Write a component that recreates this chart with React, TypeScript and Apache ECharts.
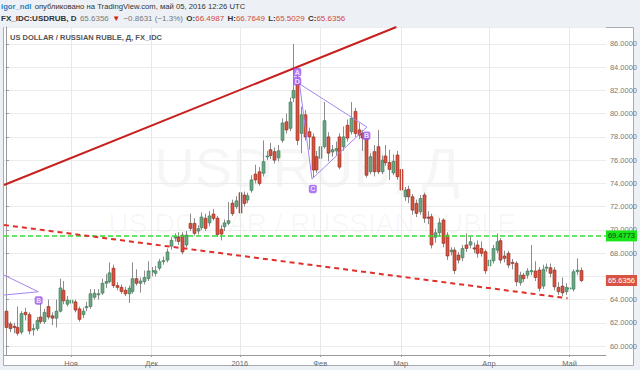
import React, { useEffect, useRef } from "react";
import * as echarts from "echarts";

// ---- categories (weekday trading days) ----
const startDate = "2015-10-08";
const totalSlots = 157; // 151 bars + empty right padding
const monthLabels: Record<string, string> = {
  "2015-11-02": "Ноя",
  "2015-12-01": "Дек",
  "2016-01-01": "2016",
  "2016-02-01": "Фев",
  "2016-03-01": "Мар",
  "2016-04-01": "Апр",
  "2016-05-02": "Май",
};

// ---- OHLC values [open, close, low, high] ----
const ohlc: number[][] = [
  [63.0, 61.6, 61.4, 63.2], [61.9, 61.5, 61.2, 62.1], [61.7, 61.6, 61.1, 62.0], [61.6, 61.1, 60.9, 63.4],
  [61.2, 62.8, 61.0, 63.0], [62.9, 62.7, 62.2, 63.3], [62.7, 61.3, 61.0, 62.9], [61.4, 61.5, 60.9, 61.9],
  [61.5, 62.2, 61.3, 62.5], [62.5, 62.1, 61.9, 64.2], [62.1, 62.9, 61.9, 63.2], [63.4, 62.5, 62.3, 64.0],
  [62.6, 62.4, 61.8, 62.9], [62.4, 63.0, 61.6, 64.0], [63.0, 65.0, 62.9, 65.8], [64.8, 63.9, 63.6, 65.6],
  [63.6, 63.95, 63.4, 64.3], [63.7, 63.95, 63.3, 64.4], [63.8, 63.1, 62.9, 64.0], [63.2, 62.3, 62.1, 63.4],
  [62.7, 63.0, 62.4, 63.3], [63.3, 63.4, 63.0, 63.8], [63.4, 64.5, 63.2, 64.9], [64.2, 64.55, 64.0, 64.9],
  [64.45, 64.5, 64.0, 64.9], [64.56, 65.4, 64.4, 65.8], [65.4, 65.55, 65.0, 66.2], [65.55, 66.3, 65.4, 67.2],
  [66.7, 65.2, 65.0, 67.0], [65.2, 65.05, 64.8, 65.5], [65.05, 64.7, 64.5, 65.3], [64.8, 64.5, 64.3, 65.1],
  [64.5, 64.97, 63.7, 65.2], [64.7, 65.8, 64.5, 67.2], [65.8, 65.4, 65.2, 66.6], [65.4, 65.6, 64.6, 65.9],
  [65.55, 65.9, 65.3, 66.5], [65.8, 66.46, 65.6, 67.3], [66.4, 66.5, 66.0, 66.8], [66.26, 66.48, 66.0, 66.9],
  [66.7, 67.26, 66.5, 67.5], [67.3, 67.35, 67.0, 67.7], [67.4, 68.1, 67.2, 68.4], [68.6, 69.1, 68.3, 69.4],
  [69.3, 69.4, 69.0, 69.7], [69.4, 69.0, 68.7, 69.8], [69.55, 68.1, 67.9, 69.8], [68.7, 69.55, 68.5, 69.9],
  [70.56, 70.13, 69.9, 71.4], [70.56, 69.7, 69.5, 71.0], [69.9, 70.1, 69.6, 70.4], [70.2, 71.1, 70.0, 71.5],
  [71.0, 70.13, 69.9, 71.4], [70.6, 71.2, 70.3, 71.6], [71.36, 70.99, 70.8, 71.8], [71.0, 69.6, 69.4, 71.2],
  [70.05, 69.64, 69.1, 70.4], [70.27, 70.6, 69.9, 70.9], [70.56, 70.79, 70.4, 72.4], [72.3, 71.4, 71.2, 72.6],
  [72.0, 72.5, 71.8, 72.9], [73.2, 71.45, 71.2, 75.7], [73.0, 72.28, 72.0, 73.3], [72.57, 72.94, 72.3, 73.2],
  [73.4, 74.3, 73.2, 74.7], [74.8, 74.3, 74.0, 75.6], [75.0, 74.0, 73.8, 75.4], [74.87, 75.87, 74.6, 77.7],
  [76.3, 76.36, 76.0, 76.8], [76.9, 76.4, 76.1, 77.5], [76.73, 76.0, 75.7, 77.1], [76.2, 76.8, 75.9, 77.3],
  [77.7, 79.2, 77.5, 79.6], [79.3, 78.6, 78.3, 80.0], [78.74, 81.0, 78.5, 81.4], [81.35, 82.0, 81.0, 86.0],
  [82.6, 77.7, 77.3, 83.3], [78.3, 79.9, 76.6, 80.6], [79.9, 78.0, 77.7, 80.3], [78.45, 78.0, 76.9, 78.8],
  [78.0, 75.15, 74.5, 78.3], [76.3, 75.15, 74.9, 76.8], [76.16, 77.16, 75.9, 77.5], [77.16, 79.4, 77.0, 81.0],
  [78.0, 76.6, 75.9, 78.4], [76.7, 76.9, 76.3, 77.3], [76.8, 77.0, 76.4, 77.6], [78.0, 75.4, 75.2, 78.3],
  [77.16, 78.0, 76.8, 78.9], [79.0, 77.9, 77.6, 79.5], [78.45, 79.6, 78.2, 81.0], [80.2, 78.3, 78.0, 80.5],
  [78.6, 78.16, 77.8, 79.2], [78.3, 77.9, 76.8, 78.6], [77.9, 74.7, 74.5, 78.2], [75.0, 76.3, 74.8, 76.6],
  [76.73, 75.0, 74.6, 77.3], [77.16, 75.0, 74.8, 78.6], [75.0, 76.0, 74.8, 76.4], [76.36, 75.78, 75.5, 77.3],
  [75.8, 75.2, 74.3, 76.9], [74.9, 75.9, 74.7, 76.5], [76.44, 74.57, 74.3, 76.8], [75.2, 73.43, 73.1, 75.6],
  [72.85, 73.43, 72.5, 73.7], [73.49, 72.85, 72.3, 73.8], [72.85, 71.7, 71.3, 73.1], [72.28, 71.42, 71.1, 72.6],
  [71.56, 72.7, 71.3, 73.0], [73.0, 71.0, 70.6, 73.2], [71.1, 71.0, 70.5, 71.6], [71.13, 68.7, 68.4, 71.4],
  [69.36, 69.75, 68.9, 70.1], [69.75, 70.6, 69.4, 71.0], [70.85, 68.84, 68.5, 71.0], [69.55, 67.75, 67.4, 69.8],
  [68.12, 68.26, 67.8, 68.5], [68.26, 66.5, 66.2, 68.5], [67.83, 67.4, 67.1, 68.1], [67.6, 68.4, 67.3, 68.7],
  [68.7, 68.4, 68.1, 69.7], [68.7, 68.98, 68.4, 69.4], [68.45, 68.35, 68.0, 68.9], [68.7, 67.98, 67.6, 69.1],
  [68.4, 67.98, 67.7, 69.0], [68.12, 66.48, 66.2, 68.3], [66.9, 67.4, 66.6, 67.7], [67.34, 68.4, 67.1, 68.7],
  [68.26, 68.98, 68.0, 69.7], [69.07, 67.4, 67.1, 69.3], [67.75, 67.55, 67.2, 68.2], [67.98, 66.97, 66.7, 68.2],
  [67.2, 67.12, 66.6, 67.5], [67.12, 65.53, 65.16, 67.3], [65.45, 66.1, 65.2, 66.4], [66.1, 65.8, 65.5, 66.3],
  [66.1, 66.46, 65.8, 66.7], [66.4, 66.5, 66.1, 68.7], [66.46, 65.9, 65.6, 67.3], [66.54, 64.97, 64.7, 66.8],
  [65.16, 66.6, 64.9, 67.0], [66.7, 66.8, 66.4, 67.1], [66.74, 66.26, 65.9, 67.1], [66.54, 65.1, 64.8, 66.8],
  [65.05, 64.68, 64.4, 65.5], [65.16, 64.58, 64.3, 65.9], [64.68, 65.05, 64.4, 65.4], [64.95, 65.0, 62.24, 65.68],
  [64.9, 66.4, 64.7, 66.6], [66.4, 66.54, 66.1, 67.55], [66.4987, 65.6356, 65.5029, 66.7649],
];

// ---- drawings (x = bar index, y = price) ----
const upperChannel = [[-0.5, 73.86], [101.85, 87.46]];
const lowerChannel = [[-0.5, 70.42], [146.5, 64.11]];
const triangle = [[76.6, 82.56], [94.17, 78.85], [79.84, 74.38], [76.6, 82.56]];
const leftWedgeTop = [[-0.5, 66.11], [8.44, 64.67]];
const leftWedgeBottom = [[-0.5, 64.39], [8.44, 64.67]];
const patternLabels = [
  { name: "A", value: [76.0, 83.56] },
  { name: "D", value: [76.0, 82.8] },
  { name: "C", value: [80.05, 73.52] },
  { name: "B", value: [94.04, 78.1] },
  { name: "B", value: [8.54, 63.93] },
];
const levelLine = 69.4773;
const lastPrice = 65.6356;
const hiddenAxisLabel = 66; // covered by the last-price tag
const yMin = 59.23;
const yMax = 87.46;

function buildDates(start: string, count: number): string[] {
  const out: string[] = [];
  const d = new Date(start + "T00:00:00Z");
  while (out.length < count) {
    const wd = d.getUTCDay();
    if (wd !== 0 && wd !== 6) out.push(d.toISOString().slice(0, 10));
    d.setUTCDate(d.getUTCDate() + 1);
  }
  return out;
}

const FONT = "'Liberation Sans', Arial, sans-serif";

export default function App() {
  const ref = useRef<HTMLDivElement>(null);
  useEffect(() => {
    if (!ref.current) return;
    const chart = echarts.init(ref.current, undefined, { renderer: "svg" });
    const dates = buildDates(startDate, totalSlots);
    const candleData = ohlc.map((r, i) => [i, r[0], r[1], r[2], r[3]]);
    const isMonth = (_: number, v: string) => v in monthLabels;

    const purple = "#a585f2";
    const overlay = (data: number[][], style: any) => ({
      type: "line",
      xAxisIndex: 1,
      yAxisIndex: 0,
      data,
      symbol: "none",
      silent: true,
      animation: false,
      z: 5,
      lineStyle: style,
    });

    chart.setOption({
      animation: false,
      backgroundColor: "#edf1f5",
      textStyle: { fontFamily: FONT },
      grid: { left: 4, right: 33, top: 27, bottom: 15, containLabel: false },
      xAxis: [
        {
          type: "category",
          data: dates,
          boundaryGap: true,
          axisLine: { show: true, lineStyle: { color: "#9a9a9a" } },
          axisTick: { show: true, interval: isMonth, alignWithLabel: true, length: 2, lineStyle: { color: "#9a9a9a" } },
          axisLabel: {
            interval: isMonth,
            formatter: (v: string) => monthLabels[v] || "",
            fontSize: 7.5,
            color: "#6a6a6a",
            margin: 4,
            fontFamily: FONT,
          },
          splitLine: { show: false },
        },
        { type: "value", min: -0.5, max: totalSlots - 0.5, show: false },
      ],
      yAxis: {
        type: "value",
        position: "right",
        min: yMin,
        max: yMax,
        splitNumber: 14,
        axisLine: { show: true, lineStyle: { color: "#9a9a9a" } },
        axisTick: { show: true, length: 3, lineStyle: { color: "#9a9a9a" } },
        axisLabel: {
          formatter: (v: number) =>
            Math.abs(v - Math.round(v)) < 1e-6 && Math.round(v) !== hiddenAxisLabel ? v.toFixed(4) : "",
          showMinLabel: false,
          showMaxLabel: false,
          fontSize: 7.5,
          color: "#7a7a7a",
          margin: 4,
          fontFamily: FONT,
        },
        splitLine: { show: true, lineStyle: { color: "#ececec" } },
      },
      graphic: [
        {
          type: "rect",
          z: -20,
          silent: true,
          shape: { x: 3.5, y: 27.5, width: 630, height: 338 },
          style: { fill: "#ffffff", stroke: "#a8acb0", lineWidth: 1 },
        },
        {
          type: "text",
          z: -10,
          silent: true,
          x: 307,
          y: 167,
          style: {
            text: "USDRUB, Д",
            font: `56px ${FONT}`,
            lineHeight: 40,
            fill: "rgba(0,0,0,0.035)",
            textAlign: "center",
            textVerticalAlign: "middle",
          },
        },
        {
          type: "text",
          z: -10,
          silent: true,
          x: 312,
          y: 223,
          style: {
            text: "US DOLLAR / RUSSIAN RUBLE",
            font: `28px ${FONT}`,
            lineHeight: 20,
            fill: "rgba(0,0,0,0.035)",
            textAlign: "center",
            textVerticalAlign: "middle",
          },
        },
        {
          type: "text",
          z: 10,
          silent: true,
          x: 10,
          y: 37,
          style: {
            text: "US DOLLAR / RUSSIAN RUBLE, Д, FX_IDC",
            font: `bold 7.5px ${FONT}`,
            fill: "#555555",
            textVerticalAlign: "middle",
          },
        },
        {
          type: "text",
          z: 10,
          silent: true,
          x: 1,
          y: 6,
          style: {
            text: "{u|igor_ndl} {t|опубликовано на TradingView.com, май 05, 2016 12:26 UTC}",
            textVerticalAlign: "middle",
            rich: {
              u: { fontSize: 7.7, fontWeight: "bold", fill: "#2f7fbd", fontFamily: FONT },
              t: { fontSize: 7.7, fill: "#333333", fontFamily: FONT },
            },
          },
        },
        {
          type: "text",
          z: 10,
          silent: true,
          x: 1,
          y: 18,
          style: {
            text:
              "{b|FX_IDC:USDRUB, D} {g|65.6356} {tri|▼} {g|−0.8631 (−1.3%)} {b|O:}{r|66.4987} {b|H:}{r|66.7649} {b|L:}{r|65.5029} {b|C:}{r|65.6356}",
            textVerticalAlign: "middle",
            rich: {
              b: { fontSize: 8, fontWeight: "bold", fill: "#333333", fontFamily: FONT },
              g: { fontSize: 8, fill: "#777777", fontFamily: FONT },
              tri: { fontSize: 8, fill: "#cc2020", fontFamily: FONT },
              r: { fontSize: 8, fill: "#d2493b", fontFamily: FONT },
            },
          },
        },
      ],
      series: [
        {
          type: "line",
          name: "grid",
          data: [],
          silent: true,
          z: 1,
          markLine: {
            silent: true,
            symbol: "none",
            animation: false,
            label: { show: false },
            lineStyle: { color: "#e8e8e8", type: "solid", width: 1 },
            data: Object.keys(monthLabels).map((d) => ({ xAxis: d })),
          },
        },
        {
          type: "custom",
          name: "USDRUB",
          data: candleData,
          z: 3,
          silent: true,
          encode: { x: 0, y: [1, 2, 3, 4] },
          renderItem: (_params: any, api: any) => {
            const idx = api.value(0);
            const o = api.value(1);
            const c = api.value(2);
            const l = api.value(3);
            const h = api.value(4);
            const pO = api.coord([idx, o]);
            const pC = api.coord([idx, c]);
            const pL = api.coord([idx, l]);
            const pH = api.coord([idx, h]);
            const x = Math.round(pO[0]) + 0.5;
            const up = c >= o;
            const top = Math.min(pO[1], pC[1]);
            const bot = Math.max(pO[1], pC[1]);
            return {
              type: "group",
              children: [
                {
                  type: "line",
                  shape: { x1: x, y1: pH[1], x2: x, y2: pL[1] },
                  style: { stroke: "#8c8c8c", lineWidth: 1 },
                },
                {
                  type: "rect",
                  shape: { x: x - 1.5, y: top, width: 3, height: Math.max(bot - top, 1) },
                  style: {
                    fill: up ? "#6ba583" : "#d75442",
                    stroke: up ? "#3f7a5a" : "#8e2b1f",
                    lineWidth: 0.6,
                  },
                },
              ],
            };
          },
        },
        overlay(upperChannel, { color: "#c8201e", width: 2 }),
        overlay(lowerChannel, { color: "#e0302c", width: 2, type: [5, 4] }),
        overlay(triangle, { color: purple, width: 1 }),
        overlay(leftWedgeTop, { color: purple, width: 1 }),
        overlay(leftWedgeBottom, { color: purple, width: 1 }),
        {
          type: "line",
          xAxisIndex: 1,
          yAxisIndex: 0,
          data: [],
          silent: true,
          z: 6,
          markLine: {
            silent: true,
            symbol: "none",
            animation: false,
            data: [
              {
                yAxis: levelLine,
                lineStyle: { color: "#33dd33", width: 1.5, type: [5, 3] },
                label: {
                  show: true,
                  position: "end",
                  distance: 0,
                  formatter: levelLine.toFixed(4),
                  backgroundColor: "#19e619",
                  color: "#1a3a1a",
                  fontSize: 7.5,
                  padding: [2, 2, 1, 2],
                  fontFamily: FONT,
                },
              },
              {
                yAxis: lastPrice,
                lineStyle: { color: "rgba(0,0,0,0)", width: 0 },
                label: {
                  show: true,
                  position: "end",
                  distance: 0,
                  formatter: lastPrice.toFixed(4),
                  backgroundColor: "#d75442",
                  color: "#ffffff",
                  fontSize: 7.5,
                  padding: [2, 2, 1, 2],
                  fontFamily: FONT,
                },
              },
            ],
          },
        },
        {
          type: "scatter",
          xAxisIndex: 1,
          yAxisIndex: 0,
          z: 7,
          silent: true,
          symbol: "roundRect",
          symbolSize: [8, 8.5],
          itemStyle: { color: "#9b55f2" },
          label: {
            show: true,
            position: "inside",
            formatter: (p: any) => p.name,
            color: "#ffffff",
            fontSize: 7,
            lineHeight: 8,
            fontWeight: "bold",
            fontFamily: FONT,
          },
          data: patternLabels,
        },
      ],
    });
    return () => chart.dispose();
  }, []);

  return (
    <div style={{ position: "fixed", left: 0, top: 0, width: 640, height: 370, background: "#edf1f5" }}>
      <div ref={ref} style={{ width: 640, height: 370 }} />
    </div>
  );
}
